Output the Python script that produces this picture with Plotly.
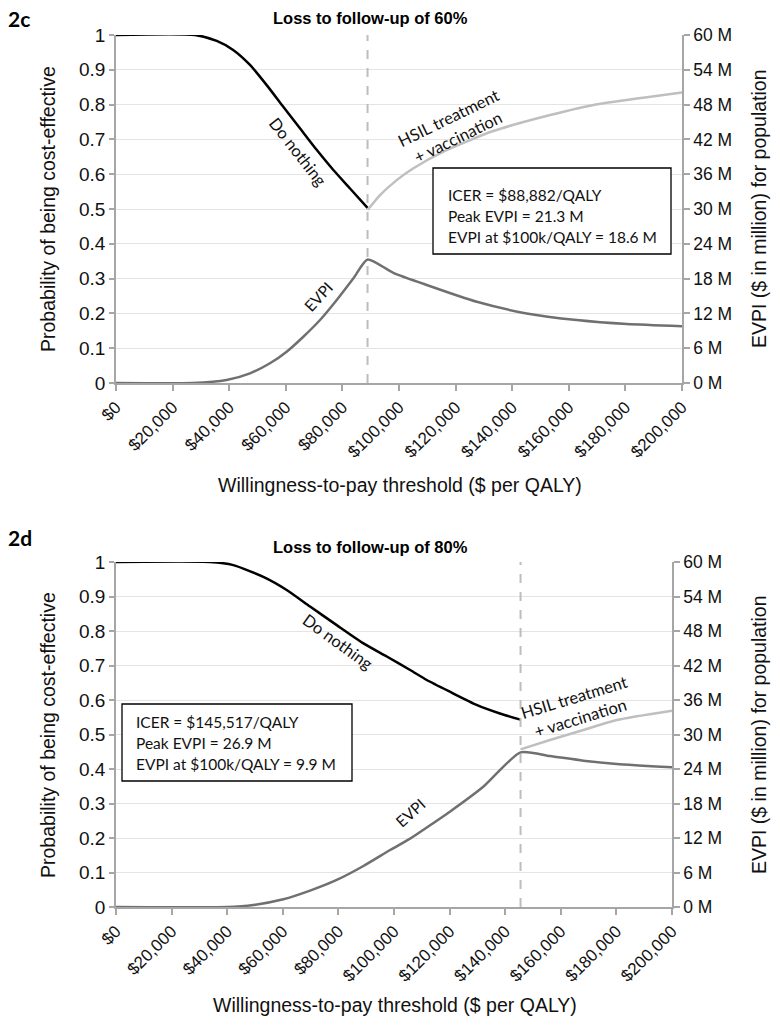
import plotly.graph_objects as go

W, H = 780, 1027

# ---------------- data ----------------
wtp_ticks = [0, 20000, 40000, 60000, 80000, 100000, 120000, 140000, 160000, 180000, 200000]
wtp_labels = ["$0", "$20,000", "$40,000", "$60,000", "$80,000", "$100,000",
              "$120,000", "$140,000", "$160,000", "$180,000", "$200,000"]
evpi_ticks = [0, 6, 12, 18, 24, 30, 36, 42, 48, 54, 60]
evpi_labels = ["0 M", "6 M", "12 M", "18 M", "24 M", "30 M", "36 M", "42 M", "48 M", "54 M", "60 M"]

# Panel 2c: loss to follow-up of 60%
icer_c = 88882
c_dn_x = [0, 27900, 35600, 41400, 47350, 53250, 59100, 65000, 70900, 76800, 82700, 88882]
c_dn_y = [1.0, 1.0, 0.983, 0.957, 0.914, 0.856, 0.794, 0.732, 0.670, 0.612, 0.559, 0.503]
c_hsil_x = [88882, 93300, 99200, 105100, 115700, 133300, 151000, 168700, 186300, 200000]
c_hsil_y = [0.497, 0.540, 0.583, 0.617, 0.665, 0.724, 0.765, 0.799, 0.820, 0.835]
c_evpi_x = [0, 27000, 39100, 47350, 54400, 60300, 66200, 72100, 78000, 83900, 88882,
            98000, 109800, 127500, 145100, 162800, 180500, 200000]
c_evpi_y = [0, 0, 0.52, 1.67, 3.40, 5.40, 7.98, 10.86, 14.31, 18.05, 21.3,
            19.0, 16.9, 14.0, 12.0, 10.86, 10.17, 9.8]

# Panel 2d: loss to follow-up of 80%
icer_d = 145517
d_dn_x = [0, 33800, 42200, 53000, 61400, 69800, 79400, 89000, 97400, 105800, 111800,
          120100, 129700, 138100, 145517]
d_dn_y = [1.0, 1.0, 0.991, 0.957, 0.919, 0.871, 0.817, 0.764, 0.726, 0.687, 0.658,
          0.624, 0.586, 0.561, 0.543]
d_hsil_x = [145517, 156100, 168100, 180100, 200000]
d_hsil_y = [0.457, 0.484, 0.513, 0.542, 0.569]
d_evpi_x = [0, 39800, 49400, 60200, 69800, 79400, 89000, 98600, 105800, 109400, 120100,
            132100, 145517, 156100, 168100, 180100, 200000]
d_evpi_y = [0, 0, 0.35, 1.34, 2.84, 4.70, 7.13, 9.91, 11.9, 13.05, 16.57,
            20.9, 26.9, 26.26, 25.45, 24.87, 24.3]

# ---------------- styling helpers ----------------
AX = "Liberation Sans, Arial, sans-serif"
CAL = "Lato, Carlito, Calibri, sans-serif"
BLACK = "#000000"
LIGHT = "#bfbfbf"
EVPI_C = "#707070"
AXLINE = "#a6a6a6"
GRID = "#e4e4e4"


def px(x):
    return x / W


def py(y):
    return 1 - y / H


fig = go.Figure()


def add_panel(xa, ya, ya2, dn_x, dn_y, hs_x, hs_y, ev_x, ev_y):
    common = dict(mode="lines", cliponaxis=False, hoverinfo="skip", showlegend=False,
                  line_shape="spline")
    fig.add_trace(go.Scatter(x=dn_x, y=dn_y, xaxis=xa, yaxis=ya,
                             line=dict(color=BLACK, width=2.5, smoothing=0.6), **common))
    fig.add_trace(go.Scatter(x=hs_x, y=hs_y, xaxis=xa, yaxis=ya,
                             line=dict(color=LIGHT, width=2.5, smoothing=0.6), **common))
    fig.add_trace(go.Scatter(x=ev_x, y=ev_y, xaxis=xa, yaxis=ya2,
                             line=dict(color=EVPI_C, width=2.5, smoothing=0.6), **common))


add_panel("x", "y", "y2", c_dn_x, c_dn_y, c_hsil_x, c_hsil_y, c_evpi_x, c_evpi_y)
add_panel("x2", "y3", "y4", d_dn_x, d_dn_y, d_hsil_x, d_hsil_y, d_evpi_x, d_evpi_y)


def xaxis_cfg(domain, anchor):
    return dict(domain=domain, anchor=anchor, range=[0, 200000], tickvals=wtp_ticks,
                ticktext=wtp_labels, tickangle=-45, showgrid=False, zeroline=False,
                showline=True, linecolor=AXLINE, linewidth=1.5, ticks="outside",
                ticklen=6, tickcolor=AXLINE, tickwidth=1.5, automargin=False,
                tickfont=dict(family=AX, size=17, color="#111"))


def yaxis_cfg(domain, anchor):
    return dict(domain=domain, anchor=anchor, range=[0, 1], dtick=0.1, tick0=0,
                showgrid=True, gridcolor=GRID, gridwidth=1, zeroline=False,
                showline=True, linecolor=AXLINE, linewidth=1.5, ticks="outside",
                ticklen=5, tickcolor=AXLINE, tickwidth=1.5, automargin=False,
                tickfont=dict(family=AX, size=19, color="#111"))


def yaxis2_cfg(over, anchor):
    return dict(overlaying=over, anchor=anchor, side="right", range=[0, 60],
                tickvals=evpi_ticks, ticktext=evpi_labels, showgrid=False, zeroline=False,
                showline=True, linecolor=AXLINE, linewidth=1.5, ticks="outside",
                ticklen=6, tickcolor=AXLINE, tickwidth=1.5, automargin=False,
                tickfont=dict(family=AX, size=17.5, color="#111"))


top_x = [px(116), px(682)]
top_y = [py(383), py(35)]
bot_x = [px(116), px(672)]
bot_y = [py(907), py(562)]

fig.update_layout(
    width=W, height=H,
    margin=dict(l=0, r=0, t=0, b=0, pad=0, autoexpand=False),
    paper_bgcolor="white", plot_bgcolor="white",
    xaxis=xaxis_cfg(top_x, "y"),
    yaxis=yaxis_cfg(top_y, "x"),
    yaxis2=yaxis2_cfg("y", "x"),
    xaxis2=xaxis_cfg(bot_x, "y3"),
    yaxis3=yaxis_cfg(bot_y, "x2"),
    yaxis4=yaxis2_cfg("y3", "x2"),
)

shapes = []
# ICER dashed lines
for xr, yr, icer in (("x", "y domain", icer_c), ("x2", "y3 domain", icer_d)):
    shapes.append(dict(type="line", xref=xr, yref=yr, x0=icer, x1=icer, y0=0, y1=1,
                       line=dict(color="#bdbdbd", width=2, dash="dash"), layer="above"))
# info boxes
for (l, t, r, b) in ((433, 168, 671, 254), (122, 704, 352, 781)):
    shapes.append(dict(type="rect", xref="paper", yref="paper",
                       x0=px(l), x1=px(r), y0=py(b), y1=py(t),
                       line=dict(color="#000", width=1.3), fillcolor="white", layer="above"))
fig.update_layout(shapes=shapes)

ann = []


def text(x, y, s, size, family=AX, bold=False, angle=0, xanchor="center", color="#111"):
    ann.append(dict(x=px(x), y=py(y), xref="paper", yref="paper", text=("<b>%s</b>" % s) if bold else s,
                    showarrow=False, textangle=angle, xanchor=xanchor, yanchor="middle",
                    font=dict(family=family, size=size, color=color)))


# panel labels and titles
text(19, 18, "2c", 21, family=CAL, bold=True, color="#000")
text(20, 537, "2d", 21, family=CAL, bold=True, color="#000")
text(370, 18, "Loss to follow-up of 60%", 16.5, bold=True, color="#000")
text(370, 547, "Loss to follow-up of 80%", 16.5, bold=True, color="#000")

# axis titles
for (cy, x_title_y, xc) in ((209, 485, 400), (735, 1005, 395)):
    text(48, cy, "Probability of being cost-effective", 19.5, angle=-90)
    text(759, cy, "EVPI ($ in million) for population", 19.5, angle=-90)
    text(xc, x_title_y, "Willingness-to-pay threshold ($ per QALY)", 19.5)

# curve labels
text(298, 152, "Do nothing", 16.5, family=CAL, angle=52)
text(453, 127, "HSIL treatment<br>+ vaccination", 16.5, family=CAL, angle=-26)
text(318, 297, "EVPI", 15.5, family=CAL, angle=-47)
text(338, 642, "Do nothing", 16.5, family=CAL, angle=36)
text(577, 707, "HSIL treatment<br>+ vaccination", 16.5, family=CAL, angle=-17)
text(410, 813, "EVPI", 15.5, family=CAL, angle=-42)

# info box text
for i, s in enumerate(["ICER = $88,882/QALY", "Peak EVPI = 21.3 M", "EVPI at $100k/QALY = 18.6 M"]):
    text(446, 195 + i * 21, s, 15.5, family=CAL, xanchor="left")
for i, s in enumerate(["ICER = $145,517/QALY", "Peak EVPI = 26.9 M", "EVPI at $100k/QALY = 9.9 M"]):
    text(134, 722 + i * 21, s, 15.5, family=CAL, xanchor="left")

fig.update_layout(annotations=ann)

fig.write_html(
    "out.html",
    config={"displayModeBar": False},
    post_script="document.body.style.margin='0';document.body.style.overflow='hidden';",
)
